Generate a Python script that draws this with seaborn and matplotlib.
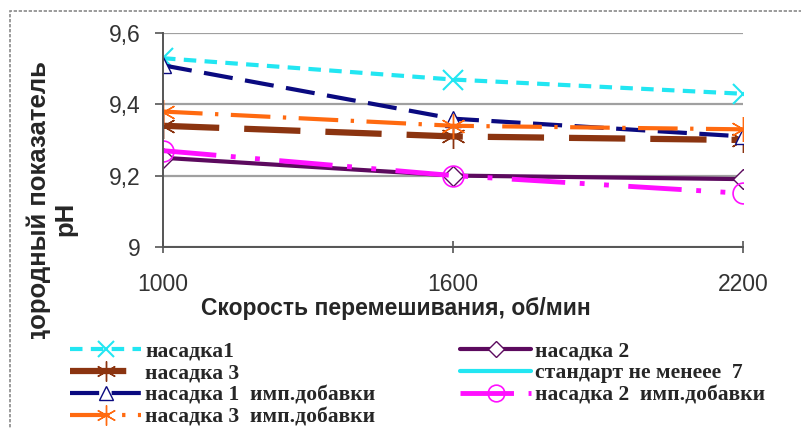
import numpy as np
import pandas as pd
import matplotlib
matplotlib.use("Agg")
import matplotlib.pyplot as plt
import seaborn as sns
from matplotlib.patches import Rectangle
from matplotlib.transforms import Bbox, TransformedBbox

# data
speeds = [1000, 1600, 2200]
nasadka1 = [9.53, 9.47, 9.43]
nasadka2 = [9.25, 9.20, 9.19]
nasadka3 = [9.34, 9.31, 9.30]
standard = [7, 7, 7]
nasadka1_imp = [9.51, 9.36, 9.31]
nasadka2_imp = [9.27, 9.20, 9.15]
nasadka3_imp = [9.38, 9.34, 9.33]

series_names = ["насадка1", "насадка 2", "насадка 3", "стандарт не менеее  7",
                "насадка 1  имп.добавки", "насадка 2  имп.добавки", "насадка 3  имп.добавки"]
series_values = [nasadka1, nasadka2, nasadka3, standard,
                 nasadka1_imp, nasadka2_imp, nasadka3_imp]

rows = []
for name, vals in zip(series_names, series_values):
    for s, v in zip(speeds, vals):
        rows.append({"series": name, "speed": s, "ph": v})
df = pd.DataFrame(rows)

styles = {
    "насадка1": dict(color="#22e6f2", linestyle=(0, (3, 2)), lw=3, marker="x", ms=15, mew=1.5),
    "насадка 2": dict(color="#5c0a5e", linestyle="-", lw=3, marker="D", ms=10, mfc="white", mew=1),
    "насадка 3": dict(color="#8b3410", linestyle=(0, (9, 4)), lw=4.5, marker=(6, 2, 0), ms=18, mew=1),
    "стандарт не менеее  7": dict(color="#22e6f2", linestyle="-", lw=3, marker=None, ms=0, mew=0),
    "насадка 1  имп.добавки": dict(color="#0a0a80", linestyle=(0, (7, 3)), lw=3, marker="^", ms=12, mfc="white", mew=1),
    "насадка 2  имп.добавки": dict(color="#ff10ff", linestyle=(0, (11, 3, 1, 4, 1, 4)), lw=3.5, marker="o", ms=15, mfc="none", mew=1.2),
    "насадка 3  имп.добавки": dict(color="#ff6a10", linestyle=(0, (9.5, 3, 0.8, 3)), lw=3, marker=(6, 2, 0), ms=18, mew=1),
}

sns.set_style("white")
plt.rcParams['font.family'] = ['Liberation Sans', 'DejaVu Sans']

fig = plt.figure(figsize=(8.01, 4.28), dpi=100)
ax = fig.add_axes([163 / 801, 1 - 246.7 / 428, (743 - 163) / 801, (246.7 - 33.3) / 428])

handles = {}
for name in series_names:
    st = styles[name]
    sub = df[df["series"] == name]
    kw = dict(color=st["color"], linestyle=st["linestyle"], linewidth=st["lw"])
    if st["marker"] is not None:
        kw.update(marker=st["marker"], markersize=st["ms"], markeredgewidth=st["mew"],
                  markeredgecolor=st["color"], markerfacecolor=st.get("mfc", st["color"]))
    sns.lineplot(data=sub, x="speed", y="ph", ax=ax, **kw)
    handles[name] = ax.lines[-1]

ax.set_xlim(1000, 2200)
ax.set_ylim(9, 9.6)
ax.set_xticks(speeds)
ax.set_xticklabels([str(s) for s in speeds])
ax.set_yticks([9, 9.2, 9.4, 9.6])
ax.set_yticklabels(["9", "9,2", "9,4", "9,6"])
ax.yaxis.grid(True, color="#a0a0a0", lw=1.6)
ax.xaxis.grid(False)
for side in ["top", "right"]:
    ax.spines[side].set_visible(False)
for side in ["left", "bottom"]:
    ax.spines[side].set_color("#555555")
    ax.spines[side].set_linewidth(1.4)
ax.tick_params(axis="y", direction="out", length=6, width=1.2, color="#555555",
               labelsize=16.5, labelcolor="#333333", pad=10, left=True)
ax.tick_params(axis="x", direction="inout", length=8, width=1.2, color="#555555",
               labelsize=16.5, labelcolor="#333333", pad=15, bottom=True)

ax.set_xlabel("Скорость перемешивания, об/мин", fontsize=16.5, fontweight="bold")
ax.xaxis.set_label_coords(396 / 801, 1 - 309 / 428, transform=fig.transFigure)
ax.xaxis.label.set_va("center")
ax.set_ylabel("водородный показатель\npH", fontsize=18.5, fontweight="bold", linespacing=1.15)
ax.yaxis.set_label_coords(52 / 801, 1 - 219 / 428, transform=fig.transFigure)
ax.yaxis.label.set_va("center")
ax.yaxis.label.set_clip_on(True)
ax.yaxis.label.set_clip_box(TransformedBbox(Bbox([[0, 1 - 339 / 428], [1, 1]]), fig.transFigure))

leg_font = dict(family=["Liberation Serif", "DejaVu Serif"], weight="bold", size=15.5)
col1 = ["насадка1", "насадка 3", "насадка 1  имп.добавки", "насадка 3  имп.добавки"]
col2 = ["насадка 2", "стандарт не менеее  7", "насадка 2  имп.добавки"]
leg_kw = dict(loc="upper left", frameon=False, prop=leg_font, handlelength=3.3,
              handletextpad=0.2, labelspacing=0.1, borderaxespad=0, borderpad=0, markerscale=0.8)
leg1 = fig.legend([handles[n] for n in col1], col1, bbox_to_anchor=(70 / 801, 1 - 341 / 428), **leg_kw)
leg2 = fig.legend([handles[n] for n in col2], col2, bbox_to_anchor=(460 / 801, 1 - 341 / 428), **leg_kw)

fig.patches.append(Rectangle((10 / 801, -0.05), 1.2, 1 - 11 / 428 + 0.05, transform=fig.transFigure,
                             fill=False, edgecolor="#8a8a8a", lw=1.2, linestyle=(0, (2, 1))))

fig.savefig("out.png", dpi=100)
